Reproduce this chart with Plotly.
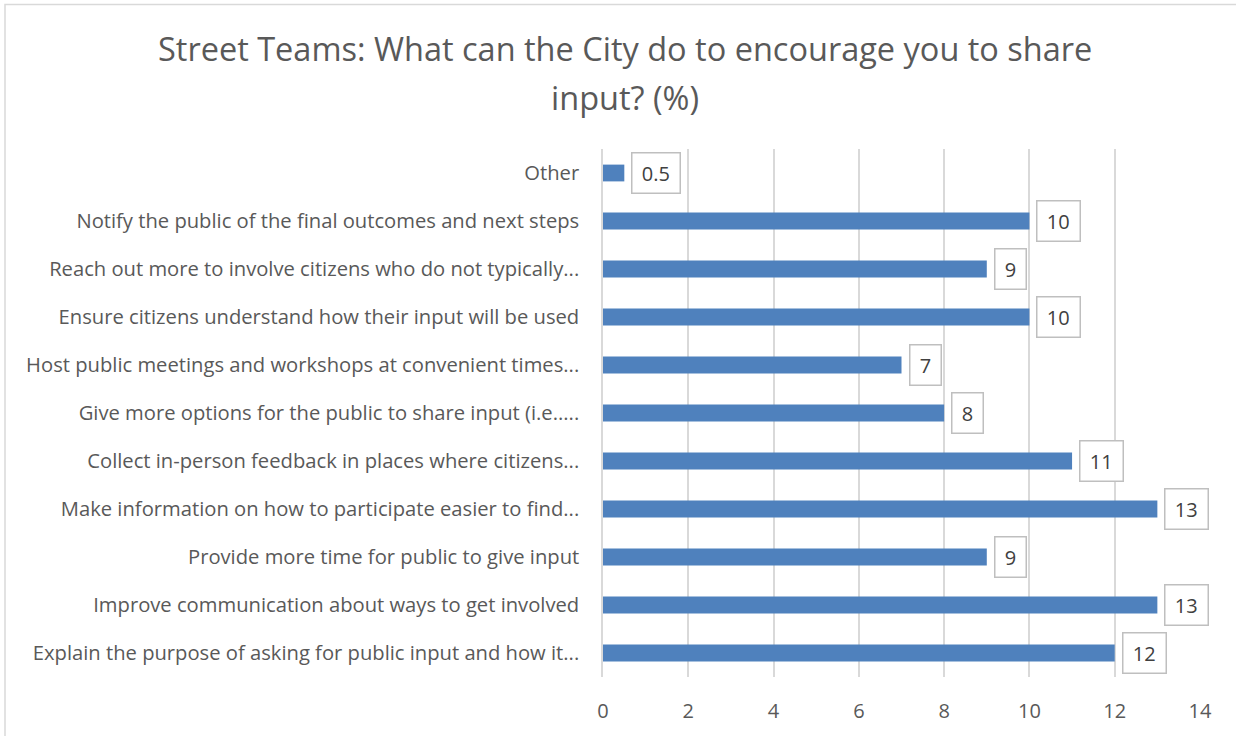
import plotly.graph_objects as go

categories = [
    "Explain the purpose of asking for public input and how it...",
    "Improve communication about ways to get involved",
    "Provide more time for public to give input",
    "Make information on how to participate easier to find...",
    "Collect in-person feedback in places where citizens...",
    "Give more options for the public to share input (i.e.....",
    "Host public meetings and workshops at convenient times...",
    "Ensure citizens understand how their input will be used",
    "Reach out more to involve citizens who do not typically...",
    "Notify the public of the final outcomes and next steps",
    "Other",
]
values = [12, 13, 9, 13, 11, 8, 7, 10, 9, 10, 0.5]
labels = ["12", "13", "9", "13", "11", "8", "7", "10", "9", "10", "0.5"]
x_ticks = [0, 2, 4, 6, 8, 10, 12, 14]
title_lines = ["Street Teams: What can the City do to encourage you to share", "input? (%)"]

W, H = 1236, 736
L = 603
T = 149
R = W - 1200
B = H - 679
pw = W - L - R
ph = H - T - B


def px_x(p):  # page pixel -> paper x
    return (p - L) / pw


def px_y(p):  # page pixel -> paper y
    return (H - B - p) / ph


fig = go.Figure()
fig.add_trace(go.Bar(
    y=categories, x=values, orientation="h",
    marker=dict(color="#4F81BD", line=dict(width=0)),
    width=0.35, hoverinfo="x+y",
))

for c, v, t in zip(categories, values, labels):
    fig.add_annotation(
        x=v, y=c, text="\u2009" + t + "\u2009", showarrow=False, xanchor="left", yanchor="middle",
        xshift=7, font=dict(family="Open Sans", size=20, color="#404040"),
        bordercolor="#BFBFBF", borderwidth=1.5, borderpad=6, bgcolor="white",
    )

# title lines
for txt, yy in zip(title_lines, [48, 97]):
    fig.add_annotation(
        xref="paper", yref="paper", x=px_x(624.5), y=px_y(yy), text=txt, showarrow=False,
        xanchor="center", yanchor="middle",
        font=dict(family="Open Sans", size=32.5, color="#595959"),
    )

# chart outer border
fig.add_shape(
    type="rect", xref="paper", yref="paper",
    x0=px_x(5), x1=px_x(1245), y0=px_y(745), y1=px_y(4),
    line=dict(color="#D9D9D9", width=1.5), fillcolor="rgba(0,0,0,0)", layer="below",
)

fig.update_layout(
    width=W, height=H,
    margin=dict(l=L, r=R, t=T, b=B),
    paper_bgcolor="white", plot_bgcolor="white",
    showlegend=False,
    xaxis=dict(
        range=[0, 14], tickvals=x_ticks, showgrid=True, gridcolor="#D9D9D9", gridwidth=1.5,
        zeroline=False, showline=False, ticks="",
        tickfont=dict(family="Open Sans", size=20, color="#595959"),
        ticklabelstandoff=20, fixedrange=True,
    ),
    yaxis=dict(
        categoryorder="array", categoryarray=categories,
        showgrid=False, zeroline=False, showline=True, linecolor="#D9D9D9", linewidth=1.5,
        ticks="", tickfont=dict(family="Open Sans", size=20.2, color="#595959"),
        ticklabelstandoff=18, range=[-0.5, len(categories) - 0.5],
    ),
)

fig.write_html(
    "out.html",
    config={"displayModeBar": False},
    post_script="document.body.style.margin='0';document.body.style.overflow='hidden';",
)
